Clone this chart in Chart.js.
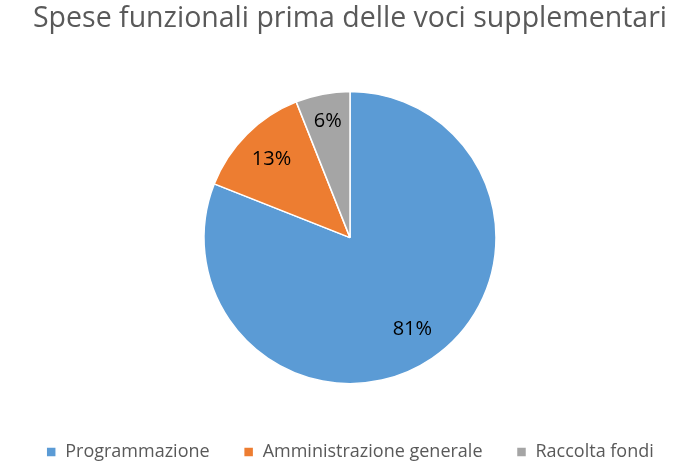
<!DOCTYPE html>
<html>
<head>
<meta charset="utf-8">
<script src="https://cdn.jsdelivr.net/npm/chart.js@4"></script>
<style>
html,body{margin:0;padding:0;background:#fff;}
#wrap{width:700px;height:471px;}
</style>
</head>
<body>
<div id="wrap"><canvas id="c" width="700" height="471"></canvas></div>
<script>
const categories = ["Programmazione", "Amministrazione generale", "Raccolta fondi"];
const values = [81, 13, 6];
const labelsText = ["81%", "13%", "6%"];
const colors = ["#5B9BD5", "#ED7D31", "#A5A5A5"];

const pieLabels = {
  id: 'pieLabels',
  afterDatasetsDraw(chart) {
    const ctx = chart.ctx;
    const meta = chart.getDatasetMeta(0);
    ctx.save();
    ctx.font = '20px "Open Sans", "Liberation Sans", sans-serif';
    ctx.fillStyle = '#000';
    ctx.textAlign = 'center';
    ctx.textBaseline = 'middle';
    meta.data.forEach((arc, i) => {
      const p = arc.getProps(['x','y','startAngle','endAngle','outerRadius'], true);
      const a = (p.startAngle + p.endAngle) / 2;
      const r = p.outerRadius * (i === 2 ? 0.81 : 0.76);
      ctx.fillText(labelsText[i], p.x + Math.cos(a) * r, p.y + Math.sin(a) * r);
    });
    ctx.restore();
  }
};

new Chart(document.getElementById('c'), {
  type: 'pie',
  data: {
    labels: categories,
    datasets: [{
      data: values,
      backgroundColor: colors,
      borderColor: '#fff',
      borderWidth: 1.5,
      radius: 146
    }]
  },
  options: {
    responsive: false,
    animation: false,
    layout: { padding: { top: 0, bottom: 0, left: 0, right: 0 } },
    plugins: {
      title: {
        display: true,
        text: 'Spese funzionali prima delle voci supplementari',
        color: '#595959',
        font: { family: '"Open Sans", "Liberation Sans", sans-serif', size: 28.5, weight: 'normal' },
        padding: { top: 2, bottom: 30 }
      },
      legend: {
        position: 'bottom',
        labels: {
          boxWidth: 10,
          boxHeight: 10,
          padding: 34,
          color: '#595959',
          font: { family: '"Open Sans", "Liberation Sans", sans-serif', size: 18 }
        }
      },
      tooltip: { enabled: false }
    }
  },
  plugins: [pieLabels]
});
</script>
</body>
</html>
